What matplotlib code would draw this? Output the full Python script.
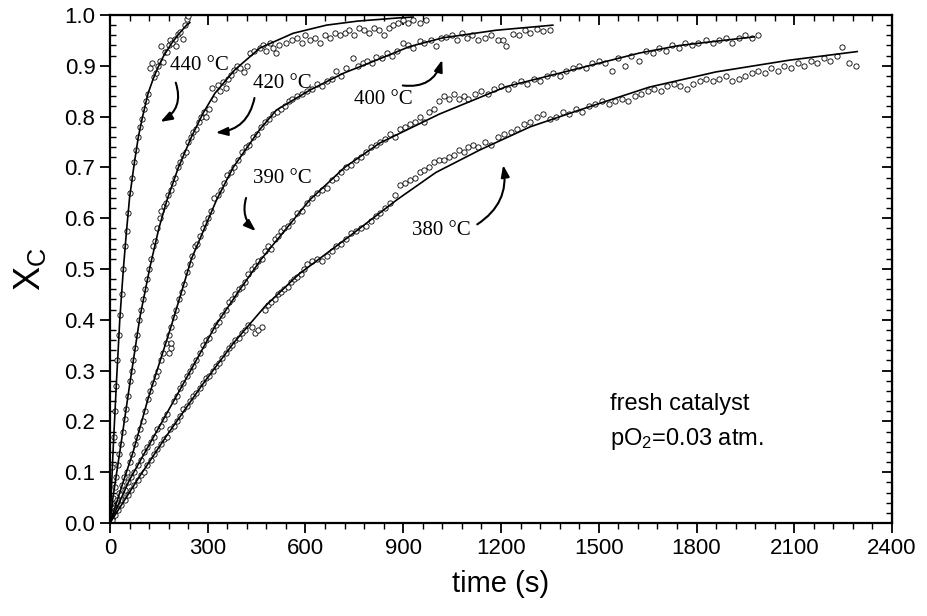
import matplotlib

matplotlib.use("Agg")
import matplotlib.pyplot as plt
from matplotlib.ticker import MultipleLocator, FormatStrFormatter

plt.rcParams["font.family"] = ["Liberation Sans", "DejaVu Sans"]
plt.rcParams["mathtext.fontset"] = "custom"
plt.rcParams["mathtext.rm"] = "Liberation Sans"

# fitted curves
fit440_t = [0, 10, 20, 30, 41, 50, 60, 75, 87, 100, 117, 133, 148, 165, 189, 210, 235, 245]
fit440_x = [0, 0.15, 0.28, 0.40, 0.50, 0.57, 0.64, 0.71, 0.76, 0.80, 0.846, 0.875, 0.898, 0.92, 0.944, 0.962, 0.98, 0.985]

fit420_t = [0, 9, 31, 61, 92, 123, 150, 175, 210, 250, 285, 322, 383, 460, 562, 664, 760, 880, 930]
fit420_x = [0, 0.05, 0.144, 0.275, 0.406, 0.505, 0.58, 0.636, 0.70, 0.76, 0.806, 0.846, 0.892, 0.935, 0.964, 0.980, 0.988, 0.994, 0.996]

fit400_t = [0, 40, 71, 117, 189, 250, 327, 378, 460, 511, 613, 715, 817, 920, 1021, 1185, 1359]
fit400_x = [0, 0.08, 0.14, 0.245, 0.39, 0.52, 0.636, 0.70, 0.775, 0.813, 0.852, 0.885, 0.911, 0.938, 0.955, 0.970, 0.980]

fit390_t = [0, 60, 143, 204, 325, 398, 465, 613, 720, 828, 1011, 1216, 1420, 1624, 1747, 1977]
fit390_x = [0, 0.085, 0.18, 0.25, 0.39, 0.459, 0.52, 0.636, 0.70, 0.748, 0.805, 0.859, 0.892, 0.925, 0.94, 0.957]

fit380_t = [0, 87, 174, 281, 380, 475, 580, 736, 880, 1000, 1134, 1290, 1441, 1655, 1860, 2084, 2293]
fit380_x = [0, 0.088, 0.172, 0.27, 0.355, 0.426, 0.49, 0.565, 0.636, 0.69, 0.734, 0.78, 0.813, 0.858, 0.888, 0.911, 0.928]

# measured points
pts440_t = [3, 7, 11, 15, 19, 23, 27, 31, 36, 41, 46, 51, 56, 62, 68, 74, 80, 86, 92, 98,
            104, 110, 116, 122, 128, 134, 140, 146, 152, 158, 163, 168, 174, 180, 184, 190,
            199, 204, 210, 215, 225, 230, 235, 240]
pts440_x = [0.04, 0.11, 0.17, 0.22, 0.27, 0.32, 0.37, 0.41, 0.45, 0.50, 0.545, 0.575, 0.61, 0.65,
            0.68, 0.71, 0.735, 0.76, 0.78, 0.795, 0.815, 0.83, 0.845, 0.895, 0.905, 0.878, 0.885,
            0.90, 0.91, 0.938, 0.908, 0.928, 0.928, 0.94, 0.951, 0.945, 0.952, 0.938, 0.962,
            0.967, 0.952, 0.98, 0.993, 0.998]

pts420_t = [4, 9, 14, 19, 24, 29, 34, 40, 45, 50, 56, 62, 67, 72, 78, 84, 90, 96, 102, 108,
            114, 120, 126, 132, 138, 145, 152, 158, 165, 172, 178, 186, 193, 200, 208, 216,
            224, 232, 240, 248, 256, 264, 272, 280, 288, 296, 304, 312, 320, 330, 338, 346,
            355, 363, 372, 380, 390, 400, 410, 420, 430, 442, 460, 470, 480, 490, 500, 510,
            520, 540, 560, 575, 590, 600, 615, 630, 645, 660, 675, 690, 705, 720, 735, 750,
            765, 780, 795, 810, 825, 840, 855, 870, 885, 900, 915, 930, 950, 970]
pts420_x = [0.03, 0.05, 0.07, 0.09, 0.115, 0.135, 0.155, 0.18, 0.205, 0.225, 0.25, 0.28, 0.30,
            0.32, 0.345, 0.37, 0.40, 0.42, 0.44, 0.46, 0.48, 0.50, 0.52, 0.545, 0.555, 0.58,
            0.60, 0.615, 0.625, 0.63, 0.645, 0.655, 0.67, 0.68, 0.70, 0.71, 0.725, 0.73, 0.75,
            0.76, 0.77, 0.775, 0.79, 0.80, 0.81, 0.80, 0.815, 0.856, 0.835, 0.862, 0.85, 0.869,
            0.856, 0.875, 0.882, 0.891, 0.90, 0.895, 0.888, 0.90, 0.925, 0.93, 0.935, 0.94,
            0.93, 0.945, 0.935, 0.925, 0.94, 0.945, 0.95, 0.955, 0.945, 0.96, 0.95, 0.955,
            0.945, 0.96, 0.955, 0.965, 0.96, 0.965, 0.97, 0.96, 0.975, 0.97, 0.965, 0.975,
            0.97, 0.96, 0.975, 0.98, 0.985, 0.99, 0.985, 0.99, 0.985, 0.99]

pts400_t = [5, 12, 20, 28, 36, 44, 52, 60, 68, 76, 84, 92, 100, 108, 116, 124, 132, 140, 148,
            156, 164, 172, 180, 188, 196, 204, 212, 220, 228, 236, 244, 252, 260, 268, 276,
            284, 292, 300, 310, 320, 330, 340, 350, 360, 370, 380, 392, 404, 416, 428, 440,
            452, 464, 476, 488, 500, 512, 524, 536, 548, 560, 575, 590, 605, 620, 635, 650,
            665, 680, 695, 710, 725, 745, 760, 775, 790, 805, 817, 835, 850, 865, 880, 898,
            915, 930, 950, 965, 985, 1001, 1015, 1032, 1050, 1065, 1080, 1095, 1110, 1130,
            1150, 1170, 1190, 1205, 1216, 1236, 1255, 1275, 1290, 1310, 1330, 1349]
pts400_x = [0.01, 0.03, 0.045, 0.06, 0.075, 0.09, 0.10, 0.12, 0.135, 0.155, 0.17, 0.185, 0.20,
            0.22, 0.245, 0.26, 0.275, 0.29, 0.30, 0.32, 0.335, 0.355, 0.37, 0.385, 0.405,
            0.42, 0.44, 0.455, 0.47, 0.495, 0.51, 0.525, 0.545, 0.55, 0.565, 0.58, 0.59,
            0.60, 0.615, 0.64, 0.645, 0.655, 0.67, 0.685, 0.69, 0.70, 0.715, 0.73, 0.74,
            0.745, 0.76, 0.765, 0.78, 0.79, 0.795, 0.805, 0.81, 0.815, 0.82, 0.83, 0.835,
            0.84, 0.845, 0.85, 0.855, 0.865, 0.86, 0.87, 0.875, 0.89, 0.88, 0.895, 0.915,
            0.90, 0.905, 0.91, 0.905, 0.918, 0.915, 0.925, 0.92, 0.93, 0.945, 0.94, 0.935,
            0.948, 0.945, 0.95, 0.938, 0.955, 0.957, 0.96, 0.95, 0.965, 0.955, 0.96, 0.95,
            0.955, 0.96, 0.95, 0.951, 0.938, 0.962, 0.96, 0.97, 0.965, 0.972, 0.968, 0.97]

pts390_t = [5, 15, 25, 35, 45, 55, 65, 75, 85, 95, 105, 115, 125, 135, 145, 155, 165, 175,
            180, 186, 188, 195, 205, 215, 225, 235, 245, 255, 265, 275, 285, 295, 305, 315,
            325, 335, 345, 355, 365, 375, 385, 395, 405, 415, 425, 435, 445, 455, 465, 475,
            485, 495, 505, 515, 525, 535, 545, 560, 575, 590, 605, 620, 635, 650, 665, 680,
            695, 710, 725, 740, 755, 770, 785, 800, 815, 830, 845, 860, 875, 890, 905, 920,
            935, 950, 965, 980, 995, 1010, 1025, 1040, 1055, 1070, 1085, 1100, 1120, 1140,
            1160, 1180, 1200, 1220, 1240, 1260, 1280, 1300, 1320, 1340, 1360, 1380, 1400,
            1420, 1440, 1460, 1480, 1500, 1520, 1542, 1560, 1580, 1600, 1624, 1645, 1665,
            1685, 1705, 1725, 1745, 1765, 1785, 1805, 1830, 1850, 1870, 1890, 1910, 1930,
            1950, 1970, 1990]
pts390_x = [0.01, 0.025, 0.04, 0.055, 0.065, 0.08, 0.09, 0.10, 0.115, 0.125, 0.14, 0.15, 0.16,
            0.17, 0.185, 0.19, 0.205, 0.215, 0.334, 0.345, 0.354, 0.24, 0.25, 0.265, 0.275,
            0.29, 0.30, 0.31, 0.32, 0.335, 0.35, 0.36, 0.365, 0.38, 0.39, 0.395, 0.41, 0.42,
            0.435, 0.44, 0.45, 0.46, 0.465, 0.475, 0.49, 0.50, 0.505, 0.515, 0.52, 0.535,
            0.545, 0.54, 0.56, 0.565, 0.575, 0.58, 0.585, 0.595, 0.61, 0.615, 0.63, 0.64,
            0.65, 0.655, 0.66, 0.675, 0.68, 0.69, 0.70, 0.705, 0.715, 0.72, 0.73, 0.74, 0.745,
            0.75, 0.755, 0.765, 0.76, 0.775, 0.78, 0.785, 0.79, 0.80, 0.79, 0.81, 0.815, 0.83,
            0.84, 0.835, 0.845, 0.835, 0.84, 0.835, 0.845, 0.85, 0.845, 0.855, 0.86, 0.855,
            0.865, 0.87, 0.865, 0.875, 0.87, 0.88, 0.885, 0.88, 0.89, 0.895, 0.90, 0.895,
            0.905, 0.91, 0.905, 0.89, 0.915, 0.90, 0.92, 0.91, 0.93, 0.925, 0.935, 0.93, 0.94,
            0.935, 0.945, 0.94, 0.945, 0.95, 0.945, 0.95, 0.955, 0.945, 0.955, 0.96, 0.955,
            0.96]

pts380_t = [5, 15, 25, 35, 45, 55, 65, 75, 85, 95, 105, 115, 125, 135, 145, 155, 165, 175,
            185, 195, 205, 215, 225, 235, 245, 255, 265, 275, 285, 295, 305, 315, 325, 335,
            345, 355, 365, 375, 385, 395, 405, 415, 425, 435, 445, 455, 465, 475, 485, 495,
            505, 515, 525, 535, 545, 555, 565, 575, 585, 595, 605, 620, 635, 650, 665, 680,
            695, 710, 725, 740, 755, 770, 785, 800, 815, 830, 845, 860, 875, 890, 905, 920,
            935, 950, 965, 980, 995, 1010, 1025, 1040, 1055, 1070, 1085, 1100, 1115, 1130,
            1150, 1170, 1190, 1210, 1230, 1250, 1270, 1290, 1310, 1330, 1350, 1370, 1390,
            1410, 1430, 1450, 1470, 1490, 1510, 1530, 1550, 1570, 1590, 1610, 1630, 1650,
            1670, 1690, 1710, 1730, 1750, 1770, 1790, 1810, 1830, 1850, 1870, 1890, 1910,
            1930, 1950, 1970, 1990, 2010, 2030, 2050, 2070, 2090, 2110, 2130, 2150, 2170,
            2190, 2210, 2230, 2247, 2268, 2290]
pts380_x = [0.005, 0.015, 0.025, 0.035, 0.045, 0.055, 0.065, 0.075, 0.085, 0.095, 0.10, 0.115,
            0.125, 0.135, 0.145, 0.155, 0.165, 0.17, 0.185, 0.19, 0.20, 0.21, 0.225, 0.23,
            0.24, 0.25, 0.255, 0.265, 0.275, 0.285, 0.29, 0.30, 0.31, 0.315, 0.325, 0.335,
            0.345, 0.35, 0.36, 0.365, 0.375, 0.38, 0.39, 0.385, 0.375, 0.38, 0.385, 0.42,
            0.43, 0.435, 0.44, 0.45, 0.455, 0.46, 0.465, 0.475, 0.48, 0.485, 0.49, 0.50, 0.51,
            0.515, 0.52, 0.515, 0.525, 0.535, 0.545, 0.55, 0.56, 0.57, 0.575, 0.58, 0.585,
            0.595, 0.605, 0.61, 0.62, 0.63, 0.645, 0.665, 0.67, 0.675, 0.68, 0.69, 0.695,
            0.70, 0.71, 0.715, 0.715, 0.72, 0.725, 0.735, 0.73, 0.74, 0.745, 0.74, 0.75,
            0.745, 0.76, 0.765, 0.77, 0.775, 0.785, 0.79, 0.80, 0.805, 0.795, 0.80, 0.81,
            0.805, 0.815, 0.81, 0.82, 0.825, 0.83, 0.825, 0.83, 0.835, 0.83, 0.84, 0.845,
            0.85, 0.855, 0.85, 0.86, 0.865, 0.86, 0.855, 0.865, 0.87, 0.875, 0.87, 0.875,
            0.88, 0.87, 0.875, 0.88, 0.885, 0.89, 0.885, 0.895, 0.89, 0.90, 0.895, 0.905,
            0.90, 0.91, 0.905, 0.915, 0.91, 0.92, 0.937, 0.905, 0.90]

series = [
    (pts440_t, pts440_x, fit440_t, fit440_x),
    (pts420_t, pts420_x, fit420_t, fit420_x),
    (pts400_t, pts400_x, fit400_t, fit400_x),
    (pts390_t, pts390_x, fit390_t, fit390_x),
    (pts380_t, pts380_x, fit380_t, fit380_x),
]

# temperature labels: (text, label xy, arrow tail, arrow head, arc)
labels = [
    ("440 \u00b0C", (273, 0.90), (199, 0.872), (147, 0.787), -0.45),
    ("420 \u00b0C", (528, 0.866), (445, 0.842), (316, 0.768), -0.4),
    ("400 \u00b0C", (838, 0.833), (890, 0.862), (1022, 0.917), 0.45),
    ("390 \u00b0C", (528, 0.679), (420, 0.645), (454, 0.571), 0.35),
    ("380 \u00b0C", (1016, 0.575), (1120, 0.585), (1205, 0.71), 0.35),
]

fig = plt.figure(figsize=(9.28, 6.16), dpi=100)
ax = fig.add_axes([110 / 928, 1 - 523 / 616, 782 / 928, 508 / 616])

for pt, px, ft, fx in series:
    ax.plot(pt, px, "o", ms=3.8, mfc="white", mec="black", mew=0.6, zorder=2)
    ax.plot(ft, fx, "-", color="black", lw=1.2, zorder=3)

for text, xy, tail, head, rad in labels:
    ax.text(xy[0], xy[1], text, family=["Liberation Serif", "DejaVu Serif"],
            fontsize=15, ha="center", va="center")
    ax.annotate("", xy=head, xytext=tail,
                arrowprops=dict(arrowstyle="-|>,head_length=0.7,head_width=0.25",
                                color="black", lw=1.5,
                                connectionstyle=f"arc3,rad={rad}"))

ax.text(1535, 0.235, "fresh catalyst", fontsize=17, ha="left", va="center")
ax.text(1535, 0.165, r"pO$\mathregular{_2}$=0.03 atm.", fontsize=17, ha="left", va="center")

ax.set_xlim(0, 2400)
ax.set_ylim(0, 1.0)
ax.xaxis.set_major_locator(MultipleLocator(300))
ax.xaxis.set_minor_locator(MultipleLocator(60))
ax.yaxis.set_major_locator(MultipleLocator(0.1))
ax.yaxis.set_minor_locator(MultipleLocator(0.02))
ax.yaxis.set_major_formatter(FormatStrFormatter("%.1f"))
ax.tick_params(which="both", direction="out", labelsize=16, width=1.3)
ax.tick_params(which="major", length=7)
ax.tick_params(which="minor", length=4, width=1.0)
ax.tick_params(axis="y", which="minor", direction="in")
for sp in ax.spines.values():
    sp.set_linewidth(1.6)

top = ax.secondary_xaxis("top")
top.xaxis.set_major_locator(MultipleLocator(300))
top.xaxis.set_minor_locator(MultipleLocator(60))
top.tick_params(which="both", direction="in", labeltop=False, width=1.3)
top.tick_params(which="major", length=7)
top.tick_params(which="minor", length=4, width=1.0)

right = ax.secondary_yaxis("right")
right.yaxis.set_major_locator(MultipleLocator(0.1))
right.yaxis.set_minor_locator(MultipleLocator(0.02))
right.tick_params(which="both", direction="in", labelright=False, width=1.3)
right.tick_params(which="major", length=7)
right.tick_params(which="minor", length=4, width=1.0)

ax.set_xlabel("time (s)", fontsize=21, labelpad=8)
ax.set_ylabel(r"$\mathregular{X_C}$", fontsize=26, labelpad=12)

fig.savefig("out.png", dpi=100)
